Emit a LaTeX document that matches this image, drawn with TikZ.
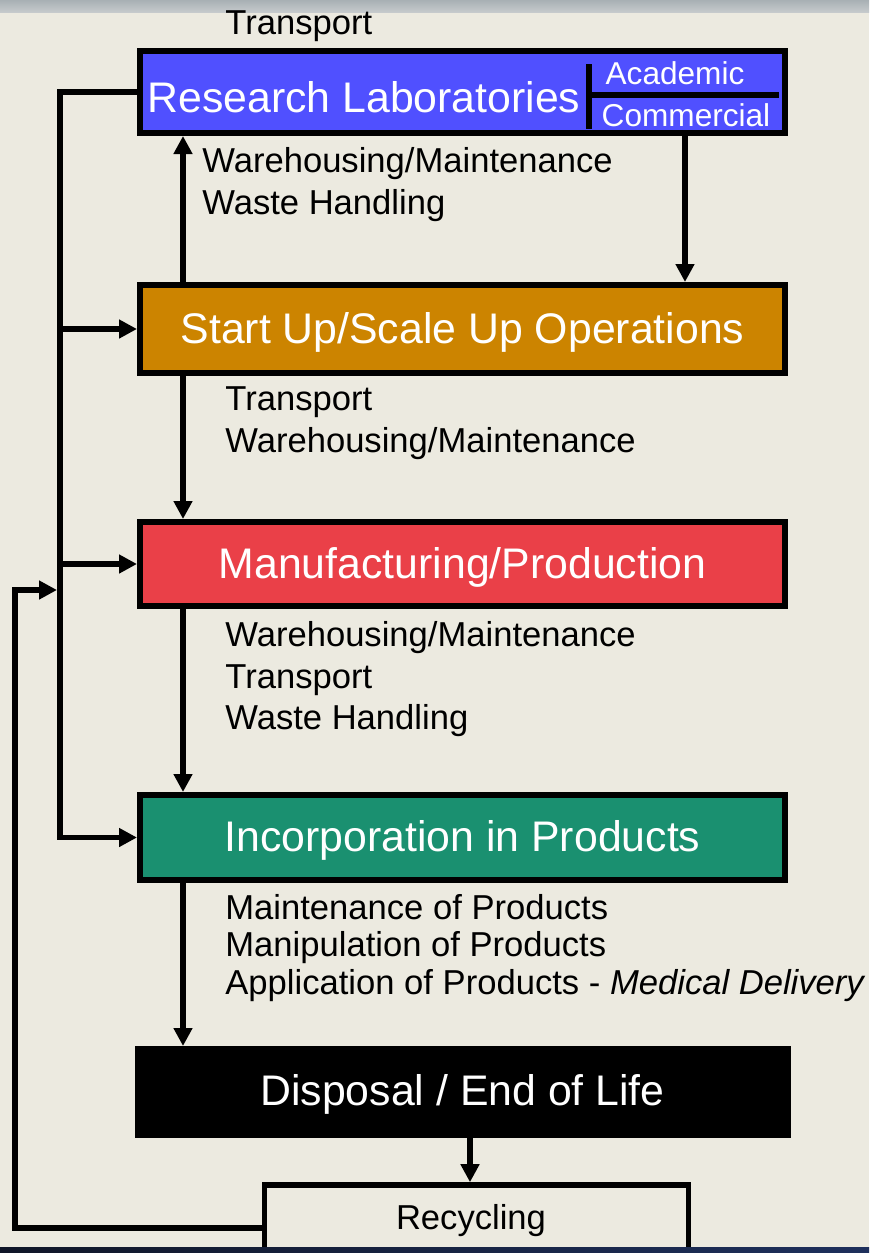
\documentclass[tikz,border=0pt]{standalone}
\usepackage{fontspec}
\setmainfont{Liberation Sans}
\usetikzlibrary{arrows.meta,calc}
\definecolor{paper}{RGB}{236,234,224}
\definecolor{labblue}{RGB}{80,80,255}
\definecolor{scaleorange}{RGB}{204,132,0}
\definecolor{prodred}{RGB}{234,64,72}
\definecolor{incteal}{RGB}{26,144,112}
\definecolor{bartop}{RGB}{168,176,180}
\definecolor{barbot}{RGB}{198,202,204}
\definecolor{navyl}{RGB}{16,22,40}
\definecolor{navyr}{RGB}{30,48,92}
\tikzset{
  stagebox/.style={draw=black, line width=3pt, minimum width=322.5pt, text=white,
    text height=14pt, text depth=0pt, font=\fontsize{21.4}{25}\selectfont},
  lbl/.style={anchor=base west, inner sep=0pt, font=\fontsize{17.3}{20}\selectfont},
  flow/.style={line width=2.8pt, -{Triangle[length=9pt,width=9pt]}},
}
\begin{document}
\begin{tikzpicture}[x=0.5pt,y=-0.5pt]
\useasboundingbox (0,0) rectangle (869,1253);
\fill[paper] (0,0) rectangle (869,1253);
\shade[top color=bartop, bottom color=barbot] (0,0) rectangle (869,12);

% stages
\node[stagebox, fill=labblue, minimum height=41pt] (rl) at (462.5,92) {};
\node[anchor=center, text=white, inner sep=0pt, font=\fontsize{21.4}{25}\selectfont] (rltitle) at (364,97) {Research Laboratories};
\coordinate (divtop) at (589,64);
\coordinate (divbot) at (589,129);
\coordinate (divmid) at (589,95);
\coordinate (divend) at (779,95);
\draw[line width=2.6pt] (divtop) -- (divbot);
\draw[line width=2.6pt] (divmid) -- (divend);
\node[text=white, inner sep=0pt, font=\fontsize{15.8}{18}\selectfont] (acad) at (675,73) {Academic};
\node[text=white, inner sep=0pt, font=\fontsize{15.8}{18}\selectfont] (comm) at (686,115) {Commercial};

\node[stagebox, fill=scaleorange, minimum height=44pt] (su) at (462.5,329) {Start Up/Scale Up Operations};
\node[stagebox, fill=prodred, minimum height=42pt] (mp) at (462.5,564) {Manufacturing/Production};
\node[stagebox, fill=incteal, minimum height=42.5pt] (ip) at (462.5,837.5) {Incorporation in Products};
\node[stagebox, fill=black, line width=0pt, minimum width=327.5pt, minimum height=45.5pt] (dl) at (462.5,1091.5) {Disposal / End of Life};
\node[draw=black, fill=paper, line width=2.8pt, minimum width=212pt, minimum height=43pt] (rc) at (476.5,1228) {};
\node[inner sep=0pt, font=\fontsize{17.3}{20}\selectfont] (rctext) at (471,1221) {Recycling};

% activity labels
\node[lbl] (t0) at (225,34) {Transport};
\node[lbl] (a1) at (202,172) {Warehousing/Maintenance};
\node[lbl] (a2) at (202,214) {Waste Handling};
\node[lbl] (b1) at (225,410) {Transport};
\node[lbl] (b2) at (225,452) {Warehousing/Maintenance};
\node[lbl] (c1) at (225,646) {Warehousing/Maintenance};
\node[lbl] (c2) at (225,688) {Transport};
\node[lbl] (c3) at (225,729) {Waste Handling};
\node[lbl] (d1) at (225,919) {Maintenance of Products};
\node[lbl] (d2) at (225,956) {Manipulation of Products};
\node[lbl] (d3) at (225,994) {Application of Products - \textit{Medical Delivery}};

% connector columns
\coordinate (colL) at (183,0);
\coordinate (colR) at (685,0);
\coordinate (colD) at (470,0);
\coordinate (bus) at (60,0);
\coordinate (loop) at (15,0);

% main flow
\draw[flow] (su.north -| colL) -- (rl.south -| colL);
\draw[flow] (rl.south -| colR) -- (su.north -| colR);
\draw[flow] (su.south -| colL) -- (mp.north -| colL);
\draw[flow] (mp.south -| colL) -- (ip.north -| colL);
\draw[flow] (ip.south -| colL) -- (dl.north -| colL);
\draw[flow] (dl.south -| colD) -- (rc.north -| colD);

% feedback bus from the laboratories
\draw[flow] (rl.west) -| (bus |- ip.west) -- (ip.west);
\draw[flow] (bus |- su.west) -- (su.west);
\draw[flow] (bus |- mp.west) -- (mp.west);

% recycling loop
\coordinate (loopin) at (57,590);
\draw[flow] (rc.west) -| (loop |- loopin) -- (loopin);

\shade[left color=navyl, right color=navyr] (0,1247) rectangle (869,1253);
\end{tikzpicture}
\end{document}
